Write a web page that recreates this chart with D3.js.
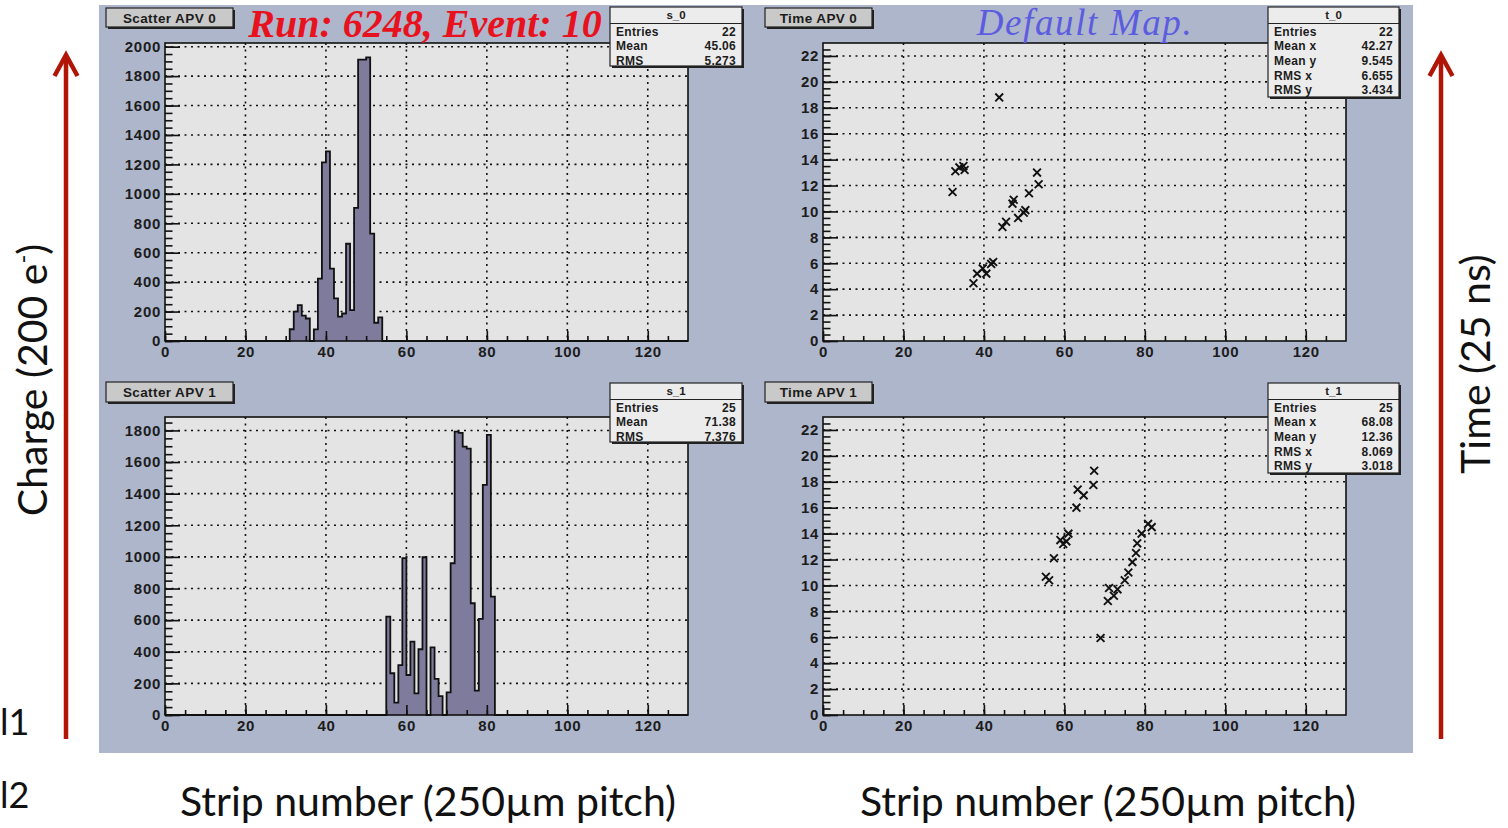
<!DOCTYPE html>
<html lang="en">
<head>
<meta charset="UTF-8">
<title>APV charge and time maps</title>
<script src="https://d3js.org/d3.v7.min.js"></script>
<style>
  body { margin: 0; background: #fff; }
  svg { display: block; }
  .rootText { font-family: "Liberation Sans", Arial, sans-serif; font-weight: bold; fill: #1c1c1c; }
  .slide { font-family: Lato, "Open Sans", sans-serif; fill: #111; }
</style>
</head>
<body>
<svg id="chart" width="1508" height="828"></svg>
<script>
// charge per strip, APV 0 and APV 1 (units of 200 e-)
const apv0Strips = [31, 32, 33, 34, 35, 37, 38, 39, 40, 41, 42, 43, 44, 45, 46, 47, 48, 49, 50, 51, 52, 53];
const apv0Charge = [80, 200, 244, 172, 153, 79, 424, 1214, 1289, 492, 289, 165, 187, 661, 210, 905, 1912, 1912, 1927, 729, 124, 160];
const apv1Strips = [55, 56, 57, 58, 59, 60, 61, 62, 63, 64, 66, 67, 68, 70, 71, 72, 73, 74, 75, 76, 77, 78, 79, 80, 81];
const apv1Charge = [622, 264, 78, 316, 992, 253, 464, 137, 416, 998, 428, 228, 120, 143, 960, 1793, 1785, 1698, 1685, 707, 154, 608, 1456, 1772, 749];

// time of maximum per strip (units of 25 ns)
const time0Strip = [32.2, 32.9, 33.9, 34.9, 35.2, 37.4, 38.3, 39.7, 40.6, 41.8, 42.3, 44.6, 45.5, 47.1, 47.4, 48.5, 49.9, 50.3, 51.2, 53.2, 53.6, 43.8];
const time0Value = [11.5, 13.1, 13.4, 13.5, 13.2, 4.46, 5.2, 5.6, 5.2, 5.95, 6.1, 8.8, 9.2, 10.6, 10.9, 9.5, 9.9, 10.1, 11.4, 13.0, 12.1, 18.8];
const time1Strip = [55.4, 56.2, 57.4, 59.0, 59.7, 60.5, 61.0, 63.0, 63.3, 64.8, 67.2, 67.4, 69.0, 70.8, 71.1, 72.3, 73.2, 75.0, 75.9, 76.9, 77.8, 78.1, 79.2, 80.8, 81.7];
const time1Value = [10.67, 10.4, 12.1, 13.5, 13.2, 13.4, 14.0, 16.0, 17.4, 16.95, 17.75, 18.85, 5.94, 8.8, 9.8, 9.2, 9.7, 10.4, 11.0, 11.8, 12.5, 13.25, 14.0, 14.75, 14.5];

const stripTicks = [0, 20, 40, 60, 80, 100, 120];
const chargeTicks0 = [0, 200, 400, 600, 800, 1000, 1200, 1400, 1600, 1800, 2000];
const chargeTicks1 = [0, 200, 400, 600, 800, 1000, 1200, 1400, 1600, 1800];
const timeTicks = [0, 2, 4, 6, 8, 10, 12, 14, 16, 18, 20, 22];

const stats0Labels = ["Entries", "Mean", "RMS"];
const stats0Values = ["22", "45.06", "5.273"];
const stats1Labels = ["Entries", "Mean", "RMS"];
const stats1Values = ["25", "71.38", "7.376"];
const statsT0Labels = ["Entries", "Mean x", "Mean y", "RMS x", "RMS y"];
const statsT0Values = ["22", "42.27", "9.545", "6.655", "3.434"];
const statsT1Labels = ["Entries", "Mean x", "Mean y", "RMS x", "RMS y"];
const statsT1Values = ["25", "68.08", "12.36", "8.069", "3.018"];

const svg = d3.select("#chart");
svg.append("rect").attr("width", 1508).attr("height", 828).attr("fill", "#fff");

// ROOT canvas
svg.append("rect").attr("x", 99).attr("y", 5).attr("width", 1314).attr("height", 748).attr("fill", "#aeb6cb");

const panels = [
  { title: "Scatter APV 0", name: "s_0", x0: 165, x1: 688, y0: 43, y1: 341, yMax: 2025, yTicks: chargeTicks0, yMinor: 50,
    titleBox: [106, 8, 127, 19], statBox: [610, 7, 132, 59], labels: stats0Labels, values: stats0Values,
    hist: { strips: apv0Strips, values: apv0Charge } },
  { title: "Time APV 0", name: "t_0", x0: 823, x1: 1346, y0: 43, y1: 341, yMax: 23, yTicks: timeTicks, yMinor: 0.5,
    titleBox: [765, 8, 107, 19], statBox: [1268, 7, 131, 90], labels: statsT0Labels, values: statsT0Values,
    points: { xs: time0Strip, ys: time0Value } },
  { title: "Scatter APV 1", name: "s_1", x0: 165, x1: 688, y0: 417, y1: 715, yMax: 1885, yTicks: chargeTicks1, yMinor: 50,
    titleBox: [106, 382, 127, 20], statBox: [610, 383, 132, 59], labels: stats1Labels, values: stats1Values,
    hist: { strips: apv1Strips, values: apv1Charge } },
  { title: "Time APV 1", name: "t_1", x0: 823, x1: 1346, y0: 417, y1: 715, yMax: 23, yTicks: timeTicks, yMinor: 0.5,
    titleBox: [765, 382, 107, 20], statBox: [1268, 383, 131, 90], labels: statsT1Labels, values: statsT1Values,
    points: { xs: time1Strip, ys: time1Value } }
];

function drawPanel(p) {
  const g = svg.append("g");
  const x = d3.scaleLinear().domain([0, 130]).range([p.x0, p.x1]);
  const y = d3.scaleLinear().domain([0, p.yMax]).range([p.y1, p.y0]);

  g.append("rect").attr("x", p.x0).attr("y", p.y0)
    .attr("width", p.x1 - p.x0).attr("height", p.y1 - p.y0).attr("fill", "#e4e4e4");

  // dotted grid
  const grid = g.append("g").attr("stroke", "#111").attr("stroke-width", 1.6).attr("stroke-dasharray", "2,4.5");
  grid.selectAll(".gx").data(stripTicks.filter(d => d > 0)).join("line")
    .attr("x1", d => x(d)).attr("x2", d => x(d)).attr("y1", p.y0).attr("y2", p.y1);
  grid.selectAll(".gy").data(p.yTicks.filter(d => d > 0)).join("line")
    .attr("y1", d => y(d)).attr("y2", d => y(d)).attr("x1", p.x0).attr("x2", p.x1);

  if (p.hist) {
    const counts = d3.range(0, 131).map(k => ({ k: k, v: 0 }));
    p.hist.strips.forEach((s, i) => { counts[s].v = p.hist.values[i]; });
    const area = d3.area().curve(d3.curveStepAfter)
      .x(d => x(d.k)).y0(y(0)).y1(d => y(d.v));
    const line = d3.line().curve(d3.curveStepAfter).x(d => x(d.k)).y(d => y(d.v));
    g.append("path").datum(counts).attr("d", area).attr("fill", "#7e7b9d");
    g.append("path").datum(counts).attr("d", line).attr("fill", "none")
      .attr("stroke", "#111").attr("stroke-width", 1.8);
  }

  if (p.points) {
    const pts = p.points.xs.map((v, i) => [v, p.points.ys[i]]);
    g.selectAll(".mk").data(pts).join("path")
      .attr("transform", d => `translate(${x(d[0])},${y(d[1])})`)
      .attr("d", "M-3.9,-3.9L3.9,3.9M-3.9,3.9L3.9,-3.9")
      .attr("stroke", "#111").attr("stroke-width", 1.9).attr("fill", "none");
  }

  // axes with ticks drawn inside the frame
  const yMinorTicks = d3.range(0, p.yMax, p.yMinor);
  const xMinorTicks = d3.range(0, 130, 5);

  const yMinorAxis = d3.axisLeft(y).tickValues(yMinorTicks).tickSize(-7.5).tickFormat("");
  const yAxis = d3.axisLeft(y).tickValues(p.yTicks).tickSize(-15).tickPadding(4).tickFormat(d3.format("d"));
  const xMinorAxis = d3.axisBottom(x).tickValues(xMinorTicks).tickSize(-5).tickFormat("");
  const xAxis = d3.axisBottom(x).tickValues(stripTicks).tickSize(-10).tickPadding(5).tickFormat(d3.format("d"));

  [[yMinorAxis, `translate(${p.x0},0)`], [yAxis, `translate(${p.x0},0)`],
   [xMinorAxis, `translate(0,${p.y1})`], [xAxis, `translate(0,${p.y1})`]].forEach(([ax, tr]) => {
    const a = g.append("g").attr("transform", tr).call(ax);
    a.select(".domain").remove();
    a.selectAll("line").attr("stroke", "#111").attr("stroke-width", 1.6);
    a.selectAll("text").attr("class", "rootText").attr("font-size", 15)
      .attr("letter-spacing", 0.7).attr("fill", "#1c1c1c");
  });

  g.append("rect").attr("x", p.x0).attr("y", p.y0)
    .attr("width", p.x1 - p.x0).attr("height", p.y1 - p.y0)
    .attr("fill", "none").attr("stroke", "#111").attr("stroke-width", 1.6);

  // title box
  const [tx, ty, tw, th] = p.titleBox;
  g.append("rect").attr("x", tx + 2).attr("y", ty + 2).attr("width", tw).attr("height", th).attr("fill", "#222");
  g.append("rect").attr("x", tx).attr("y", ty).attr("width", tw).attr("height", th)
    .attr("fill", "#c9c9c9").attr("stroke", "#222").attr("stroke-width", 1.2);
  g.append("text").attr("class", "rootText").attr("x", tx + tw / 2).attr("y", ty + th / 2 + 5)
    .attr("text-anchor", "middle").attr("font-size", 13.5).attr("letter-spacing", 0.4).text(p.title);

  // statistics box
  const [sx, sy, sw, sh] = p.statBox;
  g.append("rect").attr("x", sx + 2).attr("y", sy + 2).attr("width", sw).attr("height", sh).attr("fill", "#222");
  g.append("rect").attr("x", sx).attr("y", sy).attr("width", sw).attr("height", sh)
    .attr("fill", "#ececec").attr("stroke", "#222").attr("stroke-width", 1.2);
  g.append("line").attr("x1", sx).attr("x2", sx + sw).attr("y1", sy + 16.5).attr("y2", sy + 16.5)
    .attr("stroke", "#222").attr("stroke-width", 1.2);
  g.append("text").attr("class", "rootText").attr("x", sx + sw / 2).attr("y", sy + 11.5)
    .attr("text-anchor", "middle").attr("font-size", 11.5).text(p.name);
  const clipId = "clip-" + p.name;
  svg.append("clipPath").attr("id", clipId).append("rect")
    .attr("x", sx).attr("y", sy).attr("width", sw).attr("height", sh);
  const rows = g.append("g").attr("clip-path", `url(#${clipId})`);
  p.labels.forEach((lab, i) => {
    const by = sy + 28.5 + i * 14.7;
    rows.append("text").attr("class", "rootText").attr("x", sx + 6).attr("y", by)
      .attr("font-size", 12).attr("letter-spacing", 0.3).text(lab);
    rows.append("text").attr("class", "rootText").attr("x", sx + sw - 6).attr("y", by)
      .attr("text-anchor", "end").attr("font-size", 12).attr("letter-spacing", 0.3).text(p.values[i]);
  });
}

panels.forEach(drawPanel);

// pad decorations
svg.append("text").attr("x", 425).attr("y", 37).attr("text-anchor", "middle")
  .attr("font-family", "'Liberation Serif', 'Times New Roman', serif")
  .attr("font-style", "italic").attr("font-weight", "bold").attr("font-size", 40)
  .attr("fill", "#e8121e").text("Run: 6248, Event: 10");
svg.append("text").attr("x", 1085).attr("y", 35).attr("text-anchor", "middle")
  .attr("font-family", "'Liberation Serif', 'Times New Roman', serif")
  .attr("font-style", "italic").attr("font-size", 37).attr("letter-spacing", 1.6)
  .attr("fill", "#5c5ce0").text("Default Map.");

// slide arrows
function arrow(xc) {
  const a = svg.append("g").attr("stroke", "#b01506").attr("stroke-width", 4.5).attr("fill", "none");
  a.append("line").attr("x1", xc).attr("x2", xc).attr("y1", 739).attr("y2", 56);
  a.append("path").attr("d", `M${xc - 11.5},76 L${xc},55 L${xc + 11.5},76`).attr("stroke-linejoin", "miter");
}
arrow(66);
arrow(1441);

// slide labels
const charge = svg.append("text").attr("class", "slide").attr("font-size", 41)
  .attr("text-anchor", "middle").attr("transform", "translate(47,380) rotate(-90)");
charge.append("tspan").text("Charge (200 e");
charge.append("tspan").attr("font-size", 24).attr("dy", -16).text("-");
charge.append("tspan").attr("dy", 16).text(")");

svg.append("text").attr("class", "slide").attr("font-size", 41)
  .attr("text-anchor", "middle").attr("transform", "translate(1490,364) rotate(-90)")
  .text("Time (25 ns)");

svg.append("text").attr("class", "slide").attr("font-size", 41)
  .attr("text-anchor", "middle").attr("x", 428).attr("y", 816).text("Strip number (250µm pitch)");
svg.append("text").attr("class", "slide").attr("font-size", 41)
  .attr("text-anchor", "middle").attr("x", 1108).attr("y", 816).text("Strip number (250µm pitch)");

svg.append("text").attr("class", "slide").attr("font-size", 36).attr("x", 0).attr("y", 735).text("l1");
svg.append("text").attr("class", "slide").attr("font-size", 36).attr("x", 0).attr("y", 808).text("l2");
</script>
</body>
</html>
